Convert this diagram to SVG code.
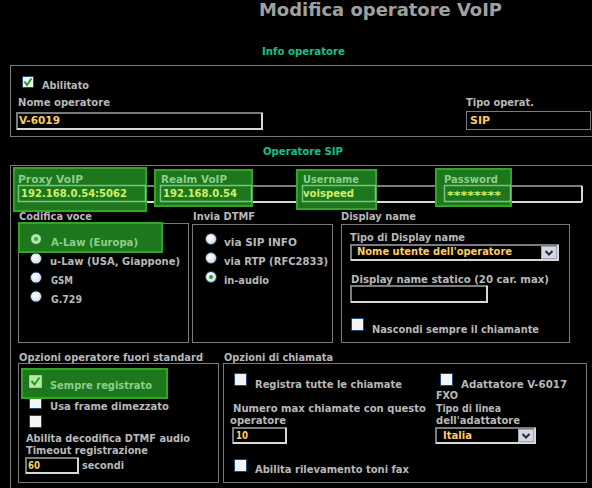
<svg xmlns="http://www.w3.org/2000/svg" width="592" height="488" viewBox="0 0 592 488">
<defs>
<style>
.t{font-family:"DejaVu Sans",Verdana,sans-serif;font-size:10px;font-weight:bold;fill:#b8b8b8}
.ti{font-family:"DejaVu Sans",Verdana,sans-serif;font-size:17px;font-weight:bold;fill:#a0a0a0}
.gh{fill:#14c08a}
.y{fill:#ffcc66}
.hl{fill:#8ccf8c}
.hv{fill:#d0f06a}
.box{fill:none;stroke:#7a7a7a;stroke-width:1}
.h{fill:#1d771d;stroke:#34a424;stroke-width:2}
.cb{fill:#f4f4f4;stroke:#1c4a78;stroke-width:1}
.rd{fill:url(#rg);stroke:#1c3a60;stroke-width:1}
.inb{fill:#000}
.dk{fill:none;stroke:#7c7c7c;stroke-width:2}
.lt{fill:none;stroke:#d8d8d8;stroke-width:2}
.hin{fill:none;stroke:#7cc47c;stroke-width:1.5}
.btn{fill:#d4d8e4;stroke:#a0a4b4;stroke-width:1}
.chev{fill:none;stroke:#2a2a3a;stroke-width:2}
.chk{fill:none;stroke:#20a020;stroke-width:2}
</style>
<radialGradient id="rg" cx="0.4" cy="0.4" r="0.7">
<stop offset="0" stop-color="#ffffff"/>
<stop offset="1" stop-color="#d0d8e0"/>
</radialGradient>
</defs>
<rect x="0" y="0" width="592" height="488" fill="#000"/>

<g id="title">
<text class="ti" x="259" y="16" textLength="243" lengthAdjust="spacingAndGlyphs">Modifica operatore VoIP</text>
</g>

<g id="info-operatore">
<text class="t gh" x="262" y="55" textLength="83" lengthAdjust="spacingAndGlyphs">Info operatore</text>
<rect class="box" x="10.5" y="65.5" width="590" height="71"/>
<rect class="cb" x="22.5" y="76.5" width="11" height="11"/>
<path class="chk" d="M24.5 81.5 L27 85 L31.5 78.5"/>
<text class="t" x="42" y="89" textLength="47" lengthAdjust="spacingAndGlyphs">Abilitato</text>
<text class="t" x="18" y="106" textLength="92" lengthAdjust="spacingAndGlyphs">Nome operatore</text>
<rect class="inb" x="17" y="112" width="246" height="18"/>
<path class="dk" d="M17 130 V113 H263"/>
<path class="lt" d="M17 129 H262 V113"/>
<text class="t y" x="19" y="124" textLength="41" lengthAdjust="spacingAndGlyphs">V-6019</text>
<text class="t" x="466" y="106" textLength="68" lengthAdjust="spacingAndGlyphs">Tipo operat.</text>
<rect x="466.5" y="111.5" width="124" height="18" fill="#000" stroke="#7c7c7c" stroke-width="1"/>
<text class="t y" x="470" y="124" textLength="20" lengthAdjust="spacingAndGlyphs">SIP</text>
</g>

<g id="operatore-sip">
<text class="t gh" x="263" y="155" textLength="80" lengthAdjust="spacingAndGlyphs">Operatore SIP</text>
<rect class="box" x="10.5" y="165.5" width="590" height="340"/>
<rect class="inb" x="18" y="185" width="564" height="17"/>
<path class="dk" d="M18 186 H582"/>
<path class="lt" d="M18 202 H582 M437 186 V202 M582 186 V202"/>
</g>

<g id="proxy-voip">
<rect class="h" x="14" y="168" width="132" height="43"/>
<rect class="hin" x="18.5" y="185.5" width="127" height="16"/>
<text class="t hl" x="18" y="183" textLength="65" lengthAdjust="spacingAndGlyphs">Proxy VoIP</text>
<text class="t hv" x="21" y="197" textLength="106" lengthAdjust="spacingAndGlyphs">192.168.0.54:5062</text>
</g>
<g id="realm-voip">
<rect class="h" x="155" y="170" width="97" height="36"/>
<rect class="hin" x="160.5" y="185.5" width="91" height="16"/>
<text class="t hl" x="161" y="183" textLength="66" lengthAdjust="spacingAndGlyphs">Realm VoIP</text>
<text class="t hv" x="163" y="197" textLength="74" lengthAdjust="spacingAndGlyphs">192.168.0.54</text>
</g>
<g id="username">
<rect class="h" x="297" y="170" width="79" height="39"/>
<rect class="hin" x="302.5" y="185.5" width="73" height="16"/>
<text class="t hl" x="303" y="183" textLength="56" lengthAdjust="spacingAndGlyphs">Username</text>
<text class="t hv" x="303" y="197" textLength="51" lengthAdjust="spacingAndGlyphs">voispeed</text>
</g>
<g id="password">
<rect class="h" x="436" y="169" width="75" height="37"/>
<rect class="hin" x="444.5" y="185.5" width="66" height="16"/>
<text class="t hl" x="444" y="183" textLength="54" lengthAdjust="spacingAndGlyphs">Password</text>
<text class="t hv" x="447" y="199" textLength="54" lengthAdjust="spacingAndGlyphs">********</text>
</g>

<g id="codifica-voce">
<text class="t" x="19" y="220" textLength="73" lengthAdjust="spacingAndGlyphs">Codifica voce</text>
<rect class="box" x="18.5" y="223.5" width="170" height="119"/>
<rect class="h" x="19" y="223" width="143" height="29"/>
<circle cx="36" cy="239" r="5.5" fill="#b0e8b0" stroke="#2a6a2a" stroke-width="1"/>
<circle cx="36" cy="239" r="2" fill="#30b030"/>
<text class="t hl" x="51" y="246" textLength="87" lengthAdjust="spacingAndGlyphs">A-Law (Europa)</text>
<circle class="rd" cx="36" cy="258.5" r="5.5"/>
<text class="t" x="50" y="265" textLength="130" lengthAdjust="spacingAndGlyphs">u-Law (USA, Giappone)</text>
<circle class="rd" cx="36" cy="277.5" r="5.5"/>
<text class="t" x="51" y="284" textLength="22" lengthAdjust="spacingAndGlyphs">GSM</text>
<circle class="rd" cx="36" cy="296.5" r="5.5"/>
<text class="t" x="51" y="303" textLength="31" lengthAdjust="spacingAndGlyphs">G.729</text>
</g>

<g id="invia-dtmf">
<text class="t" x="193" y="220" textLength="62" lengthAdjust="spacingAndGlyphs">Invia DTMF</text>
<rect class="box" x="192.5" y="224.5" width="140" height="118"/>
<circle class="rd" cx="211" cy="239" r="5.5"/>
<text class="t" x="224" y="246" textLength="73" lengthAdjust="spacingAndGlyphs">via SIP INFO</text>
<circle class="rd" cx="211" cy="258" r="5.5"/>
<text class="t" x="224" y="265" textLength="104" lengthAdjust="spacingAndGlyphs">via RTP (RFC2833)</text>
<circle class="rd" cx="211" cy="277" r="5.5"/>
<circle cx="211" cy="277" r="2" fill="#20a020"/>
<text class="t" x="224" y="284" textLength="45" lengthAdjust="spacingAndGlyphs">in-audio</text>
</g>

<g id="display-name">
<text class="t" x="341" y="220" textLength="75" lengthAdjust="spacingAndGlyphs">Display name</text>
<rect class="box" x="341.5" y="224.5" width="228" height="118"/>
<text class="t" x="350" y="241" textLength="115" lengthAdjust="spacingAndGlyphs">Tipo di Display name</text>
<rect class="inb" x="351" y="244" width="208" height="17"/>
<path class="dk" d="M351 261 V245 H559"/>
<path class="lt" d="M351 260 H558 V245"/>
<text class="t y" x="357" y="255" textLength="155" lengthAdjust="spacingAndGlyphs">Nome utente dell'operatore</text>
<rect class="btn" x="541.5" y="246.5" width="15" height="12"/>
<path class="chev" d="M545.5 251 L549 254.5 L552.5 251"/>
<text class="t" x="351" y="283" textLength="198" lengthAdjust="spacingAndGlyphs">Display name statico (20 car. max)</text>
<rect class="inb" x="351" y="285" width="137" height="18"/>
<path class="dk" d="M351 303 V286 H488"/>
<path class="lt" d="M351 302 H487 V286"/>
<rect class="cb" x="351.5" y="318.5" width="12" height="12"/>
<text class="t" x="372" y="333" textLength="167" lengthAdjust="spacingAndGlyphs">Nascondi sempre il chiamante</text>
</g>

<g id="opzioni-fuori-standard">
<text class="t" x="19" y="361" textLength="184" lengthAdjust="spacingAndGlyphs">Opzioni operatore fuori standard</text>
<rect class="box" x="18.5" y="363.5" width="200" height="119"/>
<rect class="cb" x="29.5" y="396.5" width="12" height="12"/>
<rect class="h" x="22" y="369" width="145" height="29"/>
<rect x="29.5" y="375.5" width="12" height="12" fill="#b8e8a8" stroke="#e0f0e0" stroke-width="1" stroke-dasharray="1,1"/>
<path class="chk" d="M31.5 381 L34.5 384.5 L39.5 377.5"/>
<text class="t hl" x="50" y="389" textLength="102" lengthAdjust="spacingAndGlyphs">Sempre registrato</text>
<text class="t" x="50" y="410" textLength="119" lengthAdjust="spacingAndGlyphs">Usa frame dimezzato</text>
<rect class="cb" x="29.5" y="415.5" width="12" height="12"/>
<text class="t" x="26" y="442" textLength="164" lengthAdjust="spacingAndGlyphs">Abilita decodifica DTMF audio</text>
<text class="t" x="26" y="454" textLength="122" lengthAdjust="spacingAndGlyphs">Timeout registrazione</text>
<rect class="inb" x="26" y="457" width="53" height="17"/>
<path class="dk" d="M26 474 V458 H79"/>
<path class="lt" d="M26 473 H78 V458"/>
<text class="t y" x="28" y="469" textLength="12" lengthAdjust="spacingAndGlyphs">60</text>
<text class="t" x="82" y="469" textLength="42" lengthAdjust="spacingAndGlyphs">secondi</text>
</g>

<g id="opzioni-chiamata">
<text class="t" x="224" y="361" textLength="109" lengthAdjust="spacingAndGlyphs">Opzioni di chiamata</text>
<rect class="box" x="223.5" y="363.5" width="363" height="119"/>
<rect class="cb" x="234.5" y="373.5" width="12" height="12"/>
<text class="t" x="255" y="388" textLength="147" lengthAdjust="spacingAndGlyphs">Registra tutte le chiamate</text>
<rect class="cb" x="440.5" y="373.5" width="12" height="12"/>
<text class="t" x="461" y="388" textLength="106" lengthAdjust="spacingAndGlyphs">Adattatore V-6017</text>
<text class="t" x="436" y="399" textLength="22" lengthAdjust="spacingAndGlyphs">FXO</text>
<text class="t" x="233" y="412" textLength="193" lengthAdjust="spacingAndGlyphs">Numero max chiamate con questo</text>
<text class="t" x="436" y="412" textLength="65" lengthAdjust="spacingAndGlyphs">Tipo di linea</text>
<text class="t" x="230" y="424" textLength="56" lengthAdjust="spacingAndGlyphs">operatore</text>
<text class="t" x="436" y="424" textLength="84" lengthAdjust="spacingAndGlyphs">dell'adattatore</text>
<rect class="inb" x="233" y="427" width="54" height="17"/>
<path class="dk" d="M233 444 V428 H287"/>
<path class="lt" d="M233 443 H286 V428"/>
<text class="t y" x="236" y="439" textLength="12" lengthAdjust="spacingAndGlyphs">10</text>
<rect class="inb" x="436" y="427" width="100" height="17"/>
<path class="dk" d="M436 444 V428 H536"/>
<path class="lt" d="M436 443 H535 V428"/>
<text class="t y" x="443" y="439" textLength="29" lengthAdjust="spacingAndGlyphs">Italia</text>
<rect class="btn" x="518.5" y="429.5" width="15" height="12"/>
<path class="chev" d="M522.5 434 L526 437.5 L529.5 434"/>
<rect class="cb" x="234.5" y="459.5" width="12" height="12"/>
<text class="t" x="255" y="473" textLength="154" lengthAdjust="spacingAndGlyphs">Abilita rilevamento toni fax</text>
</g>
</svg>
